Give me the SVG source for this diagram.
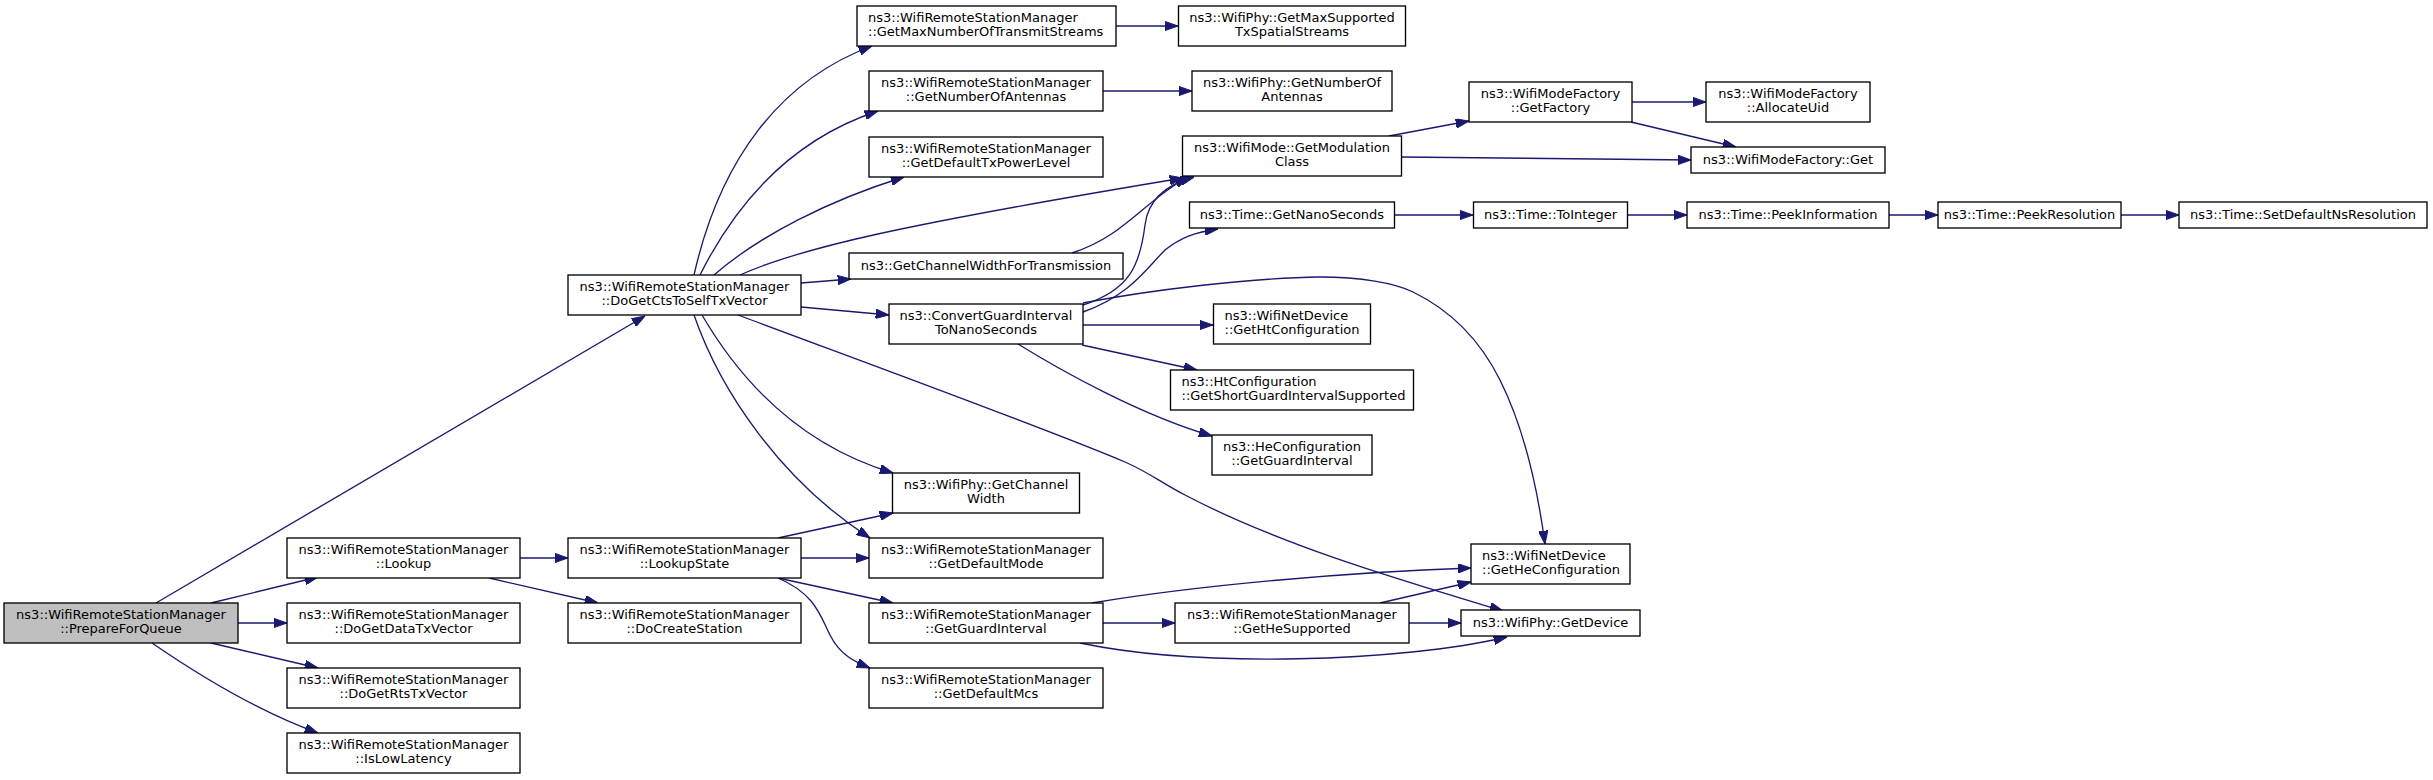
<svg xmlns="http://www.w3.org/2000/svg" width="2433" height="780" viewBox="0 0 2433 780">
<style>
.node rect{fill:#ffffff;stroke:#000000;stroke-width:1.33}
.root rect{fill:#bfbfbf}
text{font-family:"DejaVu Sans","Liberation Sans",sans-serif;font-size:13px;fill:#000000}
.c text{text-anchor:middle}
.l text{text-anchor:start}
.edges path{fill:none;stroke:#191970;stroke-width:1.33;marker-end:url(#arr)}
</style>
<defs>
<marker id="arr" viewBox="0 0 13.3 9.4" refX="13.3" refY="4.7" markerWidth="13.3" markerHeight="9.4" markerUnits="userSpaceOnUse" orient="auto">
<path d="M0,0 L13.3,4.7 L0,9.4 z" fill="#191970" stroke="#191970" stroke-width="1"/>
</marker>
</defs>
<rect width="2433" height="780" fill="#ffffff"/>
<g class="edges" id="edges">
<path d="M156,603 L645,316"/>
<path d="M211,603 L318,577"/>
<path d="M238,623 L287,623"/>
<path d="M211,643 L318,668"/>
<path d="M152,643 C200,676 260,712 318,733"/>
<path d="M520,558 L568,558"/>
<path d="M489,578 L598,603"/>
<path d="M778,538 L893,513"/>
<path d="M801,558 L869,558"/>
<path d="M778,578 L893,603"/>
<path d="M778,578 C815,594 820,615 830,635 C840,655 855,662 870,668"/>
<path d="M694,275 C720,160 780,80 872,46"/>
<path d="M700,275 C735,205 790,140 878,111"/>
<path d="M714,275 C760,235 830,200 904,177"/>
<path d="M740,275 C800,248 900,225 1183,178"/>
<path d="M801,283 L851,279"/>
<path d="M801,307 L889,315"/>
<path d="M702,315 C740,380 800,445 893,473"/>
<path d="M694,315 C720,390 780,480 870,538"/>
<path d="M738,315 C880,368 1050,430 1125,462 C1150,473 1160,482 1185,495 C1280,545 1400,580 1503,611"/>
<path d="M1072,253 C1125,236 1145,200 1188,177"/>
<path d="M1083,305 C1130,290 1140,265 1145,225 C1148,200 1165,185 1194,177"/>
<path d="M1083,312 C1130,295 1145,270 1165,250 C1180,238 1195,232 1218,229"/>
<path d="M1083,303 C1150,290 1250,278 1320,277 C1360,277 1395,283 1413,292 C1450,310 1480,340 1500,380 C1520,420 1535,470 1545,544"/>
<path d="M1083,325 L1213,325"/>
<path d="M1082,345 L1197,370"/>
<path d="M1018,344 C1060,370 1140,415 1212,436"/>
<path d="M1389,136 L1469,121"/>
<path d="M1402,157 L1691,160"/>
<path d="M1632,102 L1706,102"/>
<path d="M1631,122 L1736,147"/>
<path d="M1103,91 L1192,91"/>
<path d="M1116,26 L1178,26"/>
<path d="M1394,215 L1473,215"/>
<path d="M1628,215 L1687,215"/>
<path d="M1889,215 L1938,215"/>
<path d="M2121,215 L2179,215"/>
<path d="M1103,623 L1175,623"/>
<path d="M1092,603 C1200,585 1350,572 1471,568"/>
<path d="M1080,643 C1200,668 1400,662 1507,637"/>
<path d="M1380,603 L1471,582"/>
<path d="M1409,623 L1461,623"/>
</g>
<g id="n_prepare" class="node root c"><rect x="4" y="603" width="234" height="40"/><text x="121" y="619.3">ns3::WifiRemoteStationManager</text><text x="121" y="633.3">::PrepareForQueue</text></g>
<g id="n_lookup" class="node c"><rect x="287" y="538" width="233" height="40"/><text x="403.5" y="554.3">ns3::WifiRemoteStationManager</text><text x="403.5" y="568.3">::Lookup</text></g>
<g id="n_dogetdata" class="node c"><rect x="287" y="603" width="233" height="40"/><text x="403.5" y="619.3">ns3::WifiRemoteStationManager</text><text x="403.5" y="633.3">::DoGetDataTxVector</text></g>
<g id="n_dogetrts" class="node c"><rect x="287" y="668" width="233" height="40"/><text x="403.5" y="684.3">ns3::WifiRemoteStationManager</text><text x="403.5" y="698.3">::DoGetRtsTxVector</text></g>
<g id="n_islowlat" class="node c"><rect x="287" y="733" width="233" height="40"/><text x="403.5" y="749.3">ns3::WifiRemoteStationManager</text><text x="403.5" y="763.3">::IsLowLatency</text></g>
<g id="n_dogetcts" class="node c"><rect x="568" y="275" width="233" height="40"/><text x="684.5" y="291.3">ns3::WifiRemoteStationManager</text><text x="684.5" y="305.3">::DoGetCtsToSelfTxVector</text></g>
<g id="n_lookupstate" class="node c"><rect x="568" y="538" width="233" height="40"/><text x="684.5" y="554.3">ns3::WifiRemoteStationManager</text><text x="684.5" y="568.3">::LookupState</text></g>
<g id="n_docreate" class="node c"><rect x="568" y="603" width="233" height="40"/><text x="684.5" y="619.3">ns3::WifiRemoteStationManager</text><text x="684.5" y="633.3">::DoCreateStation</text></g>
<g id="n_getmaxnum" class="node l"><rect x="857" y="6" width="259" height="40"/><text x="868" y="22.3">ns3::WifiRemoteStationManager</text><text x="868" y="36.3">::GetMaxNumberOfTransmitStreams</text></g>
<g id="n_getnumant" class="node c"><rect x="869" y="71" width="234" height="40"/><text x="986" y="87.3">ns3::WifiRemoteStationManager</text><text x="986" y="101.3">::GetNumberOfAntennas</text></g>
<g id="n_gettxpower" class="node c"><rect x="869" y="137" width="234" height="40"/><text x="986" y="153.3">ns3::WifiRemoteStationManager</text><text x="986" y="167.3">::GetDefaultTxPowerLevel</text></g>
<g id="n_getcwft" class="node c"><rect x="849" y="253" width="274" height="26"/><text x="986" y="270">ns3::GetChannelWidthForTransmission</text></g>
<g id="n_convgi" class="node c"><rect x="889" y="304" width="194" height="40"/><text x="986" y="320.3">ns3::ConvertGuardInterval</text><text x="986" y="334.3">ToNanoSeconds</text></g>
<g id="n_phygetcw" class="node c"><rect x="892.5" y="473" width="187" height="40"/><text x="986" y="489.3">ns3::WifiPhy::GetChannel</text><text x="986" y="503.3">Width</text></g>
<g id="n_getdefmode" class="node c"><rect x="869" y="538" width="234" height="40"/><text x="986" y="554.3">ns3::WifiRemoteStationManager</text><text x="986" y="568.3">::GetDefaultMode</text></g>
<g id="n_getgi" class="node c"><rect x="869" y="603" width="234" height="40"/><text x="986" y="619.3">ns3::WifiRemoteStationManager</text><text x="986" y="633.3">::GetGuardInterval</text></g>
<g id="n_getdefmcs" class="node c"><rect x="869" y="668" width="234" height="40"/><text x="986" y="684.3">ns3::WifiRemoteStationManager</text><text x="986" y="698.3">::GetDefaultMcs</text></g>
<g id="n_phymaxsup" class="node c"><rect x="1178.5" y="6" width="227" height="40"/><text x="1292" y="22.3">ns3::WifiPhy::GetMaxSupported</text><text x="1292" y="36.3">TxSpatialStreams</text></g>
<g id="n_phynumant" class="node c"><rect x="1192" y="71" width="200" height="40"/><text x="1292" y="87.3">ns3::WifiPhy::GetNumberOf</text><text x="1292" y="101.3">Antennas</text></g>
<g id="n_modclass" class="node c"><rect x="1182.5" y="136" width="219" height="40"/><text x="1292" y="152.3">ns3::WifiMode::GetModulation</text><text x="1292" y="166.3">Class</text></g>
<g id="n_getnano" class="node c"><rect x="1189.5" y="202" width="205" height="26"/><text x="1292" y="219">ns3::Time::GetNanoSeconds</text></g>
<g id="n_htconf" class="node l"><rect x="1213.5" y="304" width="157" height="40"/><text x="1224.5" y="320.3">ns3::WifiNetDevice</text><text x="1224.5" y="334.3">::GetHtConfiguration</text></g>
<g id="n_htsgi" class="node l"><rect x="1170.5" y="370" width="243" height="40"/><text x="1181.5" y="386.3">ns3::HtConfiguration</text><text x="1181.5" y="400.3">::GetShortGuardIntervalSupported</text></g>
<g id="n_hegi" class="node c"><rect x="1212" y="435" width="160" height="40"/><text x="1292" y="451.3">ns3::HeConfiguration</text><text x="1292" y="465.3">::GetGuardInterval</text></g>
<g id="n_hesup" class="node c"><rect x="1175" y="603" width="234" height="40"/><text x="1292" y="619.3">ns3::WifiRemoteStationManager</text><text x="1292" y="633.3">::GetHeSupported</text></g>
<g id="n_getfactory" class="node c"><rect x="1469" y="82" width="163" height="40"/><text x="1550.5" y="98.3">ns3::WifiModeFactory</text><text x="1550.5" y="112.3">::GetFactory</text></g>
<g id="n_toint" class="node c"><rect x="1473.5" y="202" width="154" height="26"/><text x="1550.5" y="219">ns3::Time::ToInteger</text></g>
<g id="n_heconf" class="node l"><rect x="1471" y="544" width="159" height="40"/><text x="1482" y="560.3">ns3::WifiNetDevice</text><text x="1482" y="574.3">::GetHeConfiguration</text></g>
<g id="n_getdevice" class="node c"><rect x="1461" y="610" width="179" height="26"/><text x="1550.5" y="627">ns3::WifiPhy::GetDevice</text></g>
<g id="n_allocuid" class="node c"><rect x="1706" y="82" width="164" height="40"/><text x="1788" y="98.3">ns3::WifiModeFactory</text><text x="1788" y="112.3">::AllocateUid</text></g>
<g id="n_mfget" class="node c"><rect x="1691" y="147" width="194" height="26"/><text x="1788" y="164">ns3::WifiModeFactory::Get</text></g>
<g id="n_peekinfo" class="node c"><rect x="1687" y="202" width="202" height="26"/><text x="1788" y="219">ns3::Time::PeekInformation</text></g>
<g id="n_peekres" class="node c"><rect x="1938" y="202" width="183" height="26"/><text x="2029.5" y="219">ns3::Time::PeekResolution</text></g>
<g id="n_setdef" class="node c"><rect x="2179" y="202" width="248" height="26"/><text x="2303" y="219">ns3::Time::SetDefaultNsResolution</text></g>
</svg>
